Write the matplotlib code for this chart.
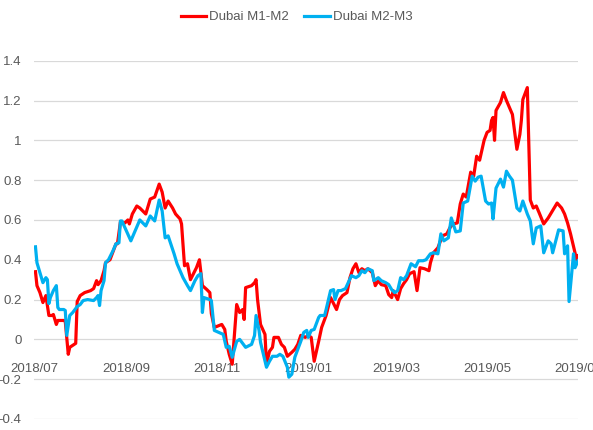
import matplotlib
matplotlib.use('Agg')
import matplotlib.pyplot as plt
import matplotlib.dates as mdates
import pandas as pd

# Dubai M1-M2 (red)
m1m2_dates = [
    '2018-07-02', '2018-07-03', '2018-07-05', '2018-07-07', '2018-07-09', '2018-07-11', '2018-07-13', '2018-07-14',
    '2018-07-16', '2018-07-17', '2018-07-21', '2018-07-22', '2018-07-24', '2018-07-25', '2018-07-28', '2018-07-29',
    '2018-07-30',
    '2018-08-01', '2018-08-04', '2018-08-08', '2018-08-10', '2018-08-12', '2018-08-13', '2018-08-15', '2018-08-17',
    '2018-08-18', '2018-08-21', '2018-08-25', '2018-08-26', '2018-08-28', '2018-08-31',
    '2018-09-02', '2018-09-03', '2018-09-05', '2018-09-08', '2018-09-10', '2018-09-14', '2018-09-17', '2018-09-20',
    '2018-09-23', '2018-09-25', '2018-09-27', '2018-09-29',
    '2018-10-02', '2018-10-04', '2018-10-07', '2018-10-08', '2018-10-10', '2018-10-12', '2018-10-14', '2018-10-18',
    '2018-10-20', '2018-10-22', '2018-10-25', '2018-10-27', '2018-10-28', '2018-10-30',
    '2018-11-04', '2018-11-06', '2018-11-07', '2018-11-09', '2018-11-11', '2018-11-14', '2018-11-16', '2018-11-18',
    '2018-11-19', '2018-11-20', '2018-11-24', '2018-11-26', '2018-11-27', '2018-11-28', '2018-11-30',
    '2018-12-03', '2018-12-04', '2018-12-06', '2018-12-08', '2018-12-09', '2018-12-12', '2018-12-14', '2018-12-16',
    '2018-12-18', '2018-12-21', '2018-12-23', '2018-12-25', '2018-12-27', '2018-12-30',
    '2019-01-01', '2019-01-03', '2019-01-05', '2019-01-08', '2019-01-10', '2019-01-13', '2019-01-16', '2019-01-18',
    '2019-01-20', '2019-01-22', '2019-01-24', '2019-01-27', '2019-01-29', '2019-01-31',
    '2019-02-02', '2019-02-04', '2019-02-06', '2019-02-08', '2019-02-10', '2019-02-13', '2019-02-15', '2019-02-17',
    '2019-02-19', '2019-02-22', '2019-02-24', '2019-02-26', '2019-02-27',
    '2019-03-02', '2019-03-04', '2019-03-06', '2019-03-08', '2019-03-10', '2019-03-13', '2019-03-15', '2019-03-17',
    '2019-03-20', '2019-03-23', '2019-03-24', '2019-03-26', '2019-03-29',
    '2019-04-01', '2019-04-04', '2019-04-06', '2019-04-08', '2019-04-11', '2019-04-13', '2019-04-15', '2019-04-17',
    '2019-04-20', '2019-04-22', '2019-04-24', '2019-04-26', '2019-04-29',
    '2019-05-01', '2019-05-03', '2019-05-04', '2019-05-05', '2019-05-06', '2019-05-07', '2019-05-10', '2019-05-12',
    '2019-05-14', '2019-05-16', '2019-05-18', '2019-05-21', '2019-05-23', '2019-05-24', '2019-05-25', '2019-05-28',
    '2019-05-30',
    '2019-06-01', '2019-06-03', '2019-06-05', '2019-06-08', '2019-06-11', '2019-06-13', '2019-06-15', '2019-06-17',
    '2019-06-20', '2019-06-22', '2019-06-24', '2019-06-26', '2019-06-29', '2019-06-30',
    '2019-07-01',
]
m1m2 = [
    0.34, 0.27, 0.235, 0.185, 0.22, 0.12, 0.12, 0.125, 0.075, 0.095, 0.095, 0.09, -0.075, -0.04, -0.025, -0.02, 0.19,
    0.22, 0.235, 0.245, 0.255, 0.295, 0.275, 0.295, 0.345, 0.385, 0.40, 0.48, 0.48, 0.59, 0.585,
    0.60, 0.58, 0.63, 0.67, 0.66, 0.63, 0.705, 0.715, 0.78, 0.74, 0.66, 0.695,
    0.66, 0.63, 0.605, 0.58, 0.37, 0.38, 0.30, 0.36, 0.40, 0.27, 0.25, 0.235, 0.13, 0.06,
    0.075, 0.05, -0.01, -0.075, -0.125, 0.175, 0.135, 0.15, 0.10, 0.26, 0.27, 0.285, 0.30, 0.20, 0.075,
    0.025, -0.125, -0.06, -0.04, 0.01, 0.01, -0.025, -0.04, -0.085, -0.065, -0.05, -0.025, 0.02, 0.01,
    0.02, 0.01, -0.11, -0.01, 0.06, 0.12, 0.21, 0.18, 0.15, 0.20, 0.22, 0.235, 0.31, 0.355,
    0.38, 0.335, 0.355, 0.345, 0.355, 0.335, 0.27, 0.295, 0.275, 0.27, 0.225, 0.21, 0.245,
    0.20, 0.255, 0.28, 0.30, 0.33, 0.34, 0.245, 0.36, 0.355, 0.345, 0.385, 0.435, 0.46,
    0.52, 0.53, 0.56, 0.58, 0.585, 0.68, 0.73, 0.715, 0.84, 0.82, 0.92, 0.90, 1.00,
    1.04, 1.05, 1.10, 1.115, 1.00, 1.15, 1.19, 1.24, 1.20, 1.165, 1.13, 0.955, 1.03, 1.10, 1.205, 1.265, 0.70,
    0.66, 0.67, 0.635, 0.58, 0.61, 0.635, 0.66, 0.685, 0.66, 0.63, 0.585, 0.53, 0.435, 0.40,
    0.42,
]

# Dubai M2-M3 (blue)
m2m3_dates = [
    '2018-07-02', '2018-07-03', '2018-07-05', '2018-07-07', '2018-07-09', '2018-07-10', '2018-07-11', '2018-07-12',
    '2018-07-14', '2018-07-16', '2018-07-17', '2018-07-18', '2018-07-21', '2018-07-22', '2018-07-23', '2018-07-25',
    '2018-07-27', '2018-07-30',
    '2018-08-01', '2018-08-03', '2018-08-06', '2018-08-10', '2018-08-12', '2018-08-13', '2018-08-14', '2018-08-15',
    '2018-08-17', '2018-08-18', '2018-08-20', '2018-08-23', '2018-08-25', '2018-08-27', '2018-08-28', '2018-08-29',
    '2018-09-01', '2018-09-04', '2018-09-10', '2018-09-14', '2018-09-17', '2018-09-20', '2018-09-23', '2018-09-25',
    '2018-09-27', '2018-09-29',
    '2018-10-03', '2018-10-05', '2018-10-09', '2018-10-12', '2018-10-14', '2018-10-17', '2018-10-19', '2018-10-21',
    '2018-10-22', '2018-10-23', '2018-10-27', '2018-10-28', '2018-10-30',
    '2018-11-02', '2018-11-05', '2018-11-07', '2018-11-09', '2018-11-11', '2018-11-14', '2018-11-16', '2018-11-20',
    '2018-11-24', '2018-11-26', '2018-11-27', '2018-11-29', '2018-11-30',
    '2018-12-04', '2018-12-06', '2018-12-08', '2018-12-11', '2018-12-13', '2018-12-15', '2018-12-18', '2018-12-19',
    '2018-12-21', '2018-12-23', '2018-12-27', '2018-12-29', '2018-12-31',
    '2019-01-01', '2019-01-03', '2019-01-05', '2019-01-08', '2019-01-09', '2019-01-12', '2019-01-13', '2019-01-16',
    '2019-01-18', '2019-01-19', '2019-01-21', '2019-01-23', '2019-01-26', '2019-01-30',
    '2019-02-02', '2019-02-04', '2019-02-06', '2019-02-08', '2019-02-10', '2019-02-13', '2019-02-14', '2019-02-17',
    '2019-02-19', '2019-02-22', '2019-02-24', '2019-02-26', '2019-02-28',
    '2019-03-02', '2019-03-04', '2019-03-06', '2019-03-08', '2019-03-10', '2019-03-11', '2019-03-14', '2019-03-16',
    '2019-03-19', '2019-03-21', '2019-03-24', '2019-03-26', '2019-03-29', '2019-03-31',
    '2019-04-02', '2019-04-05', '2019-04-07', '2019-04-10', '2019-04-13', '2019-04-15', '2019-04-18', '2019-04-21',
    '2019-04-23', '2019-04-25', '2019-04-27', '2019-04-30',
    '2019-05-02', '2019-05-04', '2019-05-05', '2019-05-07', '2019-05-10', '2019-05-12', '2019-05-14', '2019-05-16',
    '2019-05-18', '2019-05-21', '2019-05-23', '2019-05-25', '2019-05-28', '2019-05-30',
    '2019-06-01', '2019-06-03', '2019-06-06', '2019-06-08', '2019-06-11', '2019-06-13', '2019-06-14', '2019-06-18',
    '2019-06-21', '2019-06-22', '2019-06-24', '2019-06-25', '2019-06-28', '2019-06-29',
    '2019-07-01',
]
m2m3 = [
    0.465, 0.385, 0.335, 0.285, 0.31, 0.30, 0.18, 0.21, 0.245, 0.27, 0.16, 0.15, 0.15, 0.145, 0.02, 0.12, 0.135, 0.165,
    0.175, 0.195, 0.20, 0.195, 0.21, 0.22, 0.17, 0.245, 0.295, 0.385, 0.40, 0.445, 0.48, 0.485, 0.595, 0.595,
    0.545, 0.495, 0.60, 0.57, 0.62, 0.595, 0.70, 0.645, 0.51, 0.52,
    0.43, 0.38, 0.31, 0.27, 0.245, 0.295, 0.32, 0.33, 0.135, 0.21, 0.20, 0.195, 0.045,
    0.035, 0.025, -0.04, -0.035, -0.09, -0.01, 0.00, -0.04, -0.025, 0.02, 0.12, 0.045, -0.015,
    -0.14, -0.11, -0.085, -0.085, -0.075, -0.085, -0.14, -0.19, -0.175, -0.09, -0.01, 0.035, 0.045,
    0.01, 0.045, 0.05, 0.11, 0.12, 0.12, 0.15, 0.245, 0.25, 0.20, 0.245, 0.245, 0.255, 0.32,
    0.31, 0.32, 0.345, 0.335, 0.355, 0.345, 0.295, 0.31, 0.295, 0.285, 0.275, 0.25, 0.235,
    0.245, 0.31, 0.30, 0.32, 0.36, 0.38, 0.365, 0.395, 0.395, 0.40, 0.43, 0.435, 0.43, 0.53,
    0.495, 0.51, 0.61, 0.54, 0.545, 0.685, 0.695, 0.82, 0.795, 0.815, 0.82, 0.695,
    0.68, 0.685, 0.605, 0.76, 0.805, 0.765, 0.845, 0.82, 0.80, 0.66, 0.645, 0.695, 0.63, 0.595,
    0.48, 0.56, 0.57, 0.435, 0.495, 0.48, 0.435, 0.55, 0.545, 0.43, 0.47, 0.19, 0.43, 0.36,
    0.395,
]

tick_dates = ['2018-07-01', '2018-09-01', '2018-11-01', '2019-01-01', '2019-03-01', '2019-05-01', '2019-07-01']
y_ticks = [-0.4, -0.2, 0, 0.2, 0.4, 0.6, 0.8, 1, 1.2, 1.4]

txt_color = '#595959'
fsize = 9.5
plt.rcParams['font.family'] = ['Liberation Sans', 'DejaVu Sans']
plt.rcParams['font.size'] = fsize

fig = plt.figure(figsize=(5.93, 4.30), dpi=100)
ax = fig.add_axes([0.0573, 0.0256, 0.9174, 0.8332])

ax.plot(pd.to_datetime(m1m2_dates), m1m2, color='#FF0000', lw=2.3, label='Dubai M1-M2', zorder=3)
ax.plot(pd.to_datetime(m2m3_dates), m2m3, color='#00B0F0', lw=2.3, label='Dubai M2-M3', zorder=4)

ax.set_xlim(pd.Timestamp('2018-07-01'), pd.Timestamp('2019-07-01'))
ax.set_ylim(-0.4, 1.4)
ax.set_yticks(y_ticks)
ax.set_yticklabels([f'{v:g}' for v in y_ticks])
ax.yaxis.grid(True, color='#D9D9D9', lw=0.9)
ax.set_axisbelow(True)

# date axis crosses at 0, labels sit just under it (Excel style)
ax.set_xticks(pd.to_datetime(tick_dates))
ax.xaxis.set_major_formatter(mdates.DateFormatter('%Y/%m'))
ax.spines['bottom'].set_position(('data', 0))
for s in ax.spines.values():
    s.set_visible(False)
ax.tick_params(axis='both', length=0, colors=txt_color, labelsize=fsize)
ax.tick_params(axis='x', pad=17)
ax.tick_params(axis='y', pad=9)

fig.legend(loc='center', bbox_to_anchor=(0.5, 0.96), ncol=2, frameon=False,
           handlelength=1.9, handletextpad=0.25, columnspacing=1.2, labelcolor=txt_color, fontsize=fsize)

fig.savefig('out.png', dpi=100)
